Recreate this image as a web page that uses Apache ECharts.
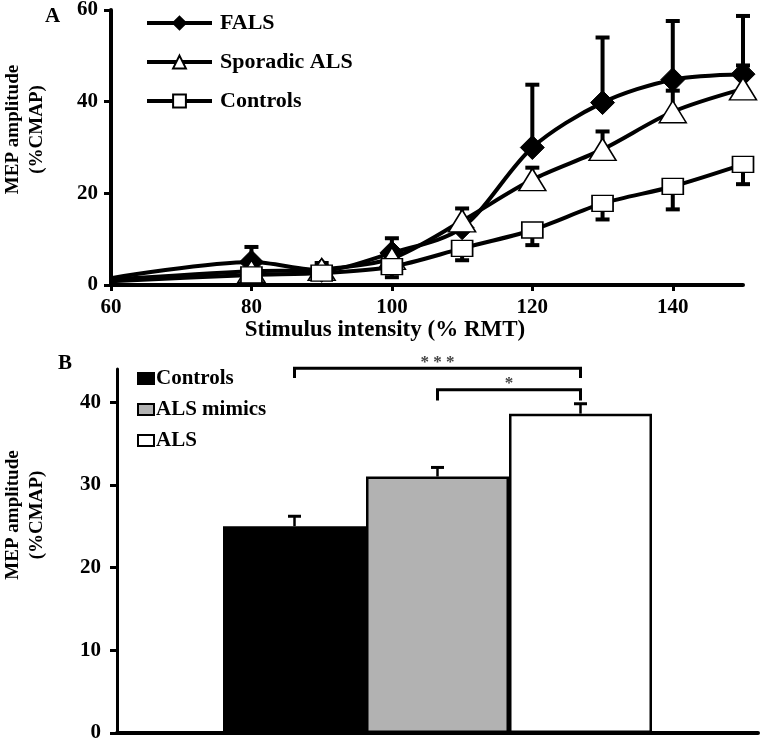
<!DOCTYPE html>
<html>
<head>
<meta charset="utf-8">
<script src="https://cdn.jsdelivr.net/npm/echarts@6/dist/echarts.min.js"></script>
<style>html,body{margin:0;padding:0;background:#fff}#c{width:760px;height:748px}</style>
</head>
<body>
<div id="c"></div>
<script>
// ---- Panel A data ----
const xTicksA = [60, 80, 100, 120, 140];
const yTicksA = [0, 20, 40, 60];
const intensity = [60, 80, 90, 100, 110, 120, 130, 140, 150];
const falsMean = [1.5, 5, 3.2, 7, 12.5, 30, 39.8, 44.8, 46];
const falsUpper = [null, 8.3, null, 10.2, null, 43.7, 54, 57.6, 58.7];
const sporMean = [1.2, 3, 3.4, 5.8, 14, 23, 29.6, 37.8, 42.8];
const sporUpper = [null, null, 4.8, null, 16.7, 25.6, 33.5, 42.4, 47.9];
const ctrlMean = [0.8, 2.2, 2.6, 4, 8, 12, 17.8, 21.5, 26.3];
const ctrlLower = [null, null, null, 1.7, 5.4, 8.7, 14.3, 16.5, 22];

// ---- Panel B data ----
const groups = ['Controls', 'ALS mimics', 'ALS'];
const barMeans = [25, 31, 38.6];
const barUpper = [26.2, 32.1, 39.8];
const yTicksB = [0, 10, 20, 30, 40];
const brackets = [
  { from: 0, to: 2, top: 44.1, leg: 42.9, label: '* * *' },
  { from: 1, to: 2, top: 41.5, leg: 40.2, label: '*' }
];

const FONT = 'Liberation Serif, Times New Roman, serif';
const BAR_W = 143;
const barColors = ['#000000', '#b2b2b2', '#ffffff'];

function lineData(mean) {
  return intensity.map((x, i) => i === 0 ? { value: [x, mean[i]], symbol: 'none' } : [x, mean[i]]);
}
function errData(mean, ends) {
  const out = [];
  intensity.forEach((x, i) => { if (ends[i] != null) out.push([x, mean[i], ends[i]]); });
  return out;
}
function errRenderA(params, api) {
  const p0 = api.coord([api.value(0), api.value(1)]);
  const p1 = api.coord([api.value(0), api.value(2)]);
  const hw = 7;
  return {
    type: 'group',
    children: [
      { type: 'line', shape: { x1: p0[0], y1: p0[1], x2: p1[0], y2: p1[1] }, style: { stroke: '#000', lineWidth: 4 } },
      { type: 'line', shape: { x1: p1[0] - hw, y1: p1[1], x2: p1[0] + hw, y2: p1[1] }, style: { stroke: '#000', lineWidth: 4 } }
    ]
  };
}

const labelStyle = { fontFamily: FONT, fontWeight: 'bold', fontSize: 21, color: '#000' };

const chart = echarts.init(document.getElementById('c'));
const option = {
  backgroundColor: '#fff',
  animation: false,
  title: [
    { text: 'A', left: 40, top: 1, padding: 5, textStyle: { fontFamily: FONT, fontWeight: 'bold', fontSize: 21, color: '#000' } },
    { text: 'B', left: 53, top: 348, padding: 5, textStyle: { fontFamily: FONT, fontWeight: 'bold', fontSize: 21, color: '#000' } }
  ],
  legend: [
    {
      orient: 'vertical', left: 145, top: 12, padding: 0, itemWidth: 65, itemHeight: 16, itemGap: 17,
      data: ['FALS', 'Sporadic ALS', 'Controls'],
      lineStyle: { width: 4 },
      textStyle: { fontFamily: FONT, fontWeight: 'bold', fontSize: 22, color: '#000', padding: [0, 0, 0, 3] }
    },
    {
      orient: 'vertical', left: 137, top: 368, padding: 0, itemWidth: 16, itemHeight: 11, itemGap: 10,
      icon: 'rect',
      data: groups.map(g => 'B:' + g),
      formatter: n => n.replace('B:', ''),
      textStyle: { fontFamily: FONT, fontWeight: 'bold', fontSize: 21, color: '#000', padding: [0, 0, 0, -3] }
    }
  ],
  grid: [
    { left: 111, right: 17, top: 10, height: 275, outerBoundsMode: 'none', containLabel: false },
    { left: 117, right: 2, top: 369, bottom: 15, outerBoundsMode: 'none', containLabel: false }
  ],
  xAxis: [
    {
      gridIndex: 0, type: 'value', min: 60, max: 150, interval: 20,
      splitLine: { show: false },
      axisLine: { lineStyle: { color: '#000', width: 4 } },
      axisTick: { customValues: xTicksA, length: 6, lineStyle: { color: '#000', width: 3 } },
      axisLabel: Object.assign({ customValues: xTicksA, margin: 12 }, labelStyle),
      name: 'Stimulus intensity (% RMT)', nameLocation: 'middle', nameGap: 34,
      nameTextStyle: { fontFamily: FONT, fontWeight: 'bold', fontSize: 23, color: '#000', padding: [0, 84, 0, 0] }
    },
    {
      gridIndex: 1, type: 'category', data: [''],
      axisLine: { lineStyle: { color: '#000', width: 4 } },
      axisTick: { show: false }, axisLabel: { show: false }
    }
  ],
  yAxis: [
    {
      gridIndex: 0, type: 'value', min: 0, max: 60, interval: 20,
      splitLine: { show: false },
      axisLine: { show: true, lineStyle: { color: '#000', width: 4 } },
      axisTick: { show: true, length: 7, lineStyle: { color: '#000', width: 3 } },
      axisLabel: Object.assign({ margin: 13 }, labelStyle),
      name: 'MEP amplitude\n(%CMAP)', nameLocation: 'middle', nameRotate: 90, nameGap: 62,
      nameTextStyle: { fontFamily: FONT, fontWeight: 'bold', fontSize: 19, color: '#000', lineHeight: 24, padding: [0, 0, 0, 36] }
    },
    {
      gridIndex: 1, type: 'value', min: 0, max: 44, interval: 10,
      splitLine: { show: false },
      axisLine: { show: true, lineStyle: { color: '#000', width: 3 } },
      axisTick: { show: true, customValues: yTicksB, length: 7, lineStyle: { color: '#000', width: 3 } },
      axisLabel: Object.assign({ margin: 16, customValues: yTicksB }, labelStyle),
      name: 'MEP amplitude\n(%CMAP)', nameLocation: 'middle', nameRotate: 90, nameGap: 68,
      nameTextStyle: { fontFamily: FONT, fontWeight: 'bold', fontSize: 19, color: '#000', lineHeight: 24, padding: [0, 0, 0, 72] }
    }
  ],
  series: [
    { type: 'custom', name: 'errF', xAxisIndex: 0, yAxisIndex: 0, z: 1, renderItem: errRenderA, data: errData(falsMean, falsUpper), encode: { x: 0, y: [1, 2] } },
    { type: 'custom', name: 'errS', xAxisIndex: 0, yAxisIndex: 0, z: 1, renderItem: errRenderA, data: errData(sporMean, sporUpper), encode: { x: 0, y: [1, 2] } },
    { type: 'custom', name: 'errC', xAxisIndex: 0, yAxisIndex: 0, z: 1, renderItem: errRenderA, data: errData(ctrlMean, ctrlLower), encode: { x: 0, y: [1, 2] } },
    {
      type: 'line', name: 'FALS', xAxisIndex: 0, yAxisIndex: 0, z: 2, smooth: 0.3,
      data: lineData(falsMean), symbol: 'diamond', symbolSize: [24, 24], showAllSymbol: true,
      lineStyle: { color: '#000', width: 4 }, itemStyle: { color: '#000', borderColor: '#000', borderWidth: 1 }
    },
    {
      type: 'line', name: 'Sporadic ALS', xAxisIndex: 0, yAxisIndex: 0, z: 3, smooth: 0.3,
      data: lineData(sporMean), symbol: 'triangle', symbolSize: [27, 22], showAllSymbol: true,
      lineStyle: { color: '#000', width: 4 }, itemStyle: { color: '#fff', borderColor: '#000', borderWidth: 1.5 }
    },
    {
      type: 'line', name: 'Controls', xAxisIndex: 0, yAxisIndex: 0, z: 4, smooth: 0.3,
      data: lineData(ctrlMean), symbol: 'rect', symbolSize: [21, 16], showAllSymbol: true,
      lineStyle: { color: '#000', width: 4 }, itemStyle: { color: '#fff', borderColor: '#000', borderWidth: 1.5 }
    },
    ...groups.map((g, i) => ({
      type: 'bar', name: 'B:' + g, xAxisIndex: 1, yAxisIndex: 1, barWidth: BAR_W, barGap: '0%',
      data: [barMeans[i]],
      itemStyle: { color: barColors[i], borderColor: '#000', borderWidth: 2.5 }
    })),
    {
      type: 'custom', name: 'errB', xAxisIndex: 1, yAxisIndex: 1, z: 5,
      data: groups.map((g, i) => [0, i, barMeans[i], barUpper[i]]),
      encode: { x: 0, y: [2, 3] },
      renderItem: function (params, api) {
        const off = (api.value(1) - (groups.length - 1) / 2) * BAR_W;
        const p0 = api.coord([api.value(0), api.value(2)]);
        const p1 = api.coord([api.value(0), api.value(3)]);
        const x = p0[0] + off;
        return {
          type: 'group', children: [
            { type: 'line', shape: { x1: x, y1: p0[1], x2: x, y2: p1[1] }, style: { stroke: '#000', lineWidth: 2.5 } },
            { type: 'line', shape: { x1: x - 6.5, y1: p1[1], x2: x + 6.5, y2: p1[1] }, style: { stroke: '#000', lineWidth: 3 } }
          ]
        };
      }
    },
    {
      type: 'custom', name: 'brackets', xAxisIndex: 1, yAxisIndex: 1, z: 5, clip: false,
      data: brackets.map(b => [0, b.from, b.to, b.top, b.leg]),
      encode: { x: 0, y: 3 },
      renderItem: function (params, api) {
        const b = brackets[params.dataIndex];
        const c0 = api.coord([0, b.top]);
        const cl = api.coord([0, b.leg]);
        const mid = (groups.length - 1) / 2;
        const xa = c0[0] + (b.from - mid) * BAR_W;
        const xb = c0[0] + (b.to - mid) * BAR_W;
        return {
          type: 'group', children: [
            { type: 'polyline', shape: { points: [[xa, cl[1]], [xa, c0[1]], [xb, c0[1]], [xb, cl[1]]] }, style: { stroke: '#000', lineWidth: 3, fill: null } },
            { type: 'text', style: { text: b.label, x: (xa + xb) / 2, y: c0[1] - 6, align: 'center', verticalAlign: 'middle', font: 'bold 17px ' + FONT, fill: '#444' } }
          ]
        };
      }
    }
  ]
};
chart.setOption(option);
</script>
</body>
</html>
